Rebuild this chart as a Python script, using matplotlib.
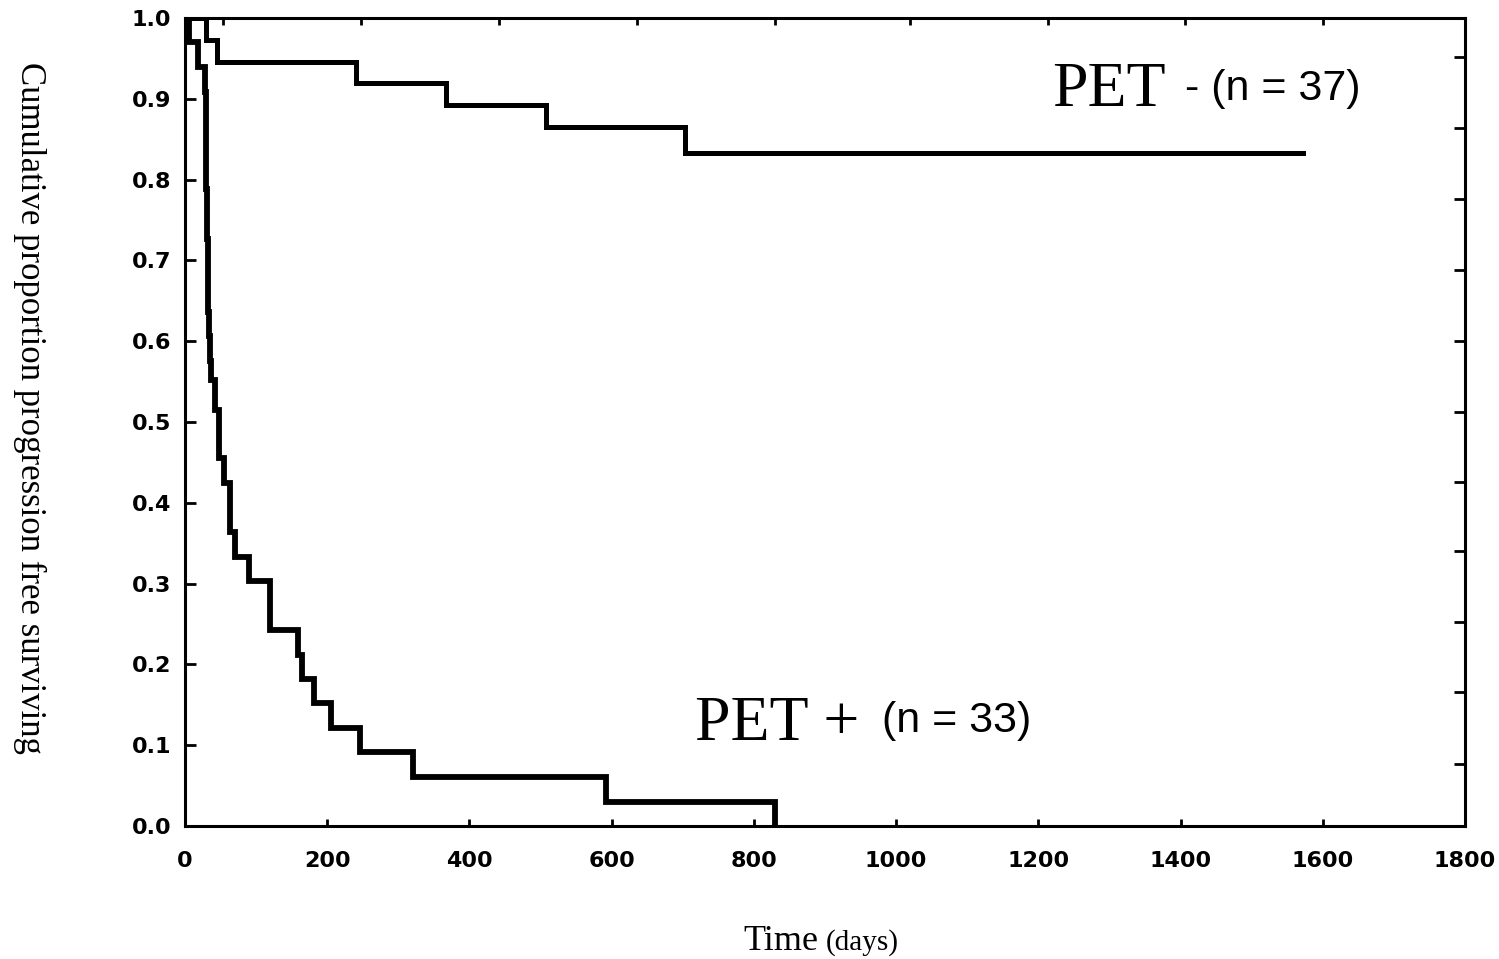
import matplotlib
matplotlib.use("Agg")
import matplotlib.pyplot as plt

# Kaplan-Meier steps
pet_pos_days = [0, 5, 18, 28, 29, 30, 31, 32, 33, 34, 35, 36, 42, 48, 55, 63, 71,
                90, 119, 159, 164, 181, 206, 246, 320, 592, 830]
pet_pos_surv = [1.0, 0.970, 0.939, 0.909, 0.848, 0.788, 0.727, 0.667, 0.636, 0.606,
                0.576, 0.552, 0.515, 0.455, 0.424, 0.364, 0.333, 0.303, 0.242, 0.212,
                0.182, 0.152, 0.121, 0.091, 0.061, 0.030, 0.0]

pet_neg_days = [0, 30, 45, 241, 367, 507, 703, 1572]
pet_neg_surv = [1.0, 0.973, 0.946, 0.919, 0.892, 0.865, 0.833, 0.833]

x_ticks = [0, 200, 400, 600, 800, 1000, 1200, 1400, 1600, 1800]
y_ticks = [0.0, 0.1, 0.2, 0.3, 0.4, 0.5, 0.6, 0.7, 0.8, 0.9, 1.0]
# the frame ticks on top and right are not aligned with the labelled ones
top_ticks = [54, 248, 442, 636, 830, 1020, 1213, 1406, 1600]
right_ticks = [0.077, 0.166, 0.252, 0.340, 0.426, 0.512, 0.600, 0.688, 0.776, 0.864, 0.952]

W, H = 1499, 959
fig = plt.figure(figsize=(W / 100, H / 100), dpi=100)
ax = fig.add_axes([185 / W, 1 - 826 / H, (1465 - 185) / W, (826 - 18) / H])

ax.step(pet_neg_days, pet_neg_surv, where="post", color="black", lw=3.6,
        solid_joinstyle="miter")
ax.step(pet_pos_days, pet_pos_surv, where="post", color="black", lw=4.2,
        solid_joinstyle="miter")

ax.set_xlim(0, 1800)
ax.set_ylim(0, 1.0)
ax.set_xticks(x_ticks)
ax.set_xticklabels([str(t) for t in x_ticks])
ax.set_yticks(y_ticks)
ax.set_yticklabels(["%.1f" % t for t in y_ticks])

for s in ax.spines.values():
    s.set_linewidth(2.2)

tick_font = {"family": "DejaVu Sans", "weight": "bold", "size": 16}
for lab in ax.get_xticklabels() + ax.get_yticklabels():
    lab.set_fontproperties(matplotlib.font_manager.FontProperties(**tick_font))
ax.tick_params(axis="x", direction="in", length=5, width=2, pad=18)
ax.tick_params(axis="y", direction="in", length=8, width=2, pad=10)

top = ax.secondary_xaxis("top")
top.set_xticks(top_ticks)
top.set_xticklabels([])
top.tick_params(direction="in", length=5, width=2)
top.spines["top"].set_visible(False)

right = ax.secondary_yaxis("right")
right.set_yticks(right_ticks)
right.set_yticklabels([])
right.tick_params(direction="in", length=8, width=2)
right.spines["right"].set_visible(False)

# group labels
ax.text(1220, 0.891, "PET", family="Liberation Serif", fontsize=46, va="baseline")
ax.text(1406, 0.899, "- (n = 37)", family="Liberation Sans", fontsize=31, va="baseline")
ax.text(717, 0.106, "PET +", family="Liberation Serif", fontsize=46, va="baseline")
ax.text(980, 0.116, "(n = 33)", family="Liberation Sans", fontsize=31, va="baseline")

# axis titles
fig.text(743 / W, 1 - 950 / H, "Time", family="Liberation Serif", fontsize=26,
         ha="left", va="baseline")
fig.text(826 / W, 1 - 950 / H, "(days)", family="Liberation Serif", fontsize=21,
         ha="left", va="baseline")
fig.text(30 / W, 1 - 408 / H, "Cumulative proportion progression free surviving",
         family="Liberation Serif", fontsize=25, rotation=270, ha="center", va="center")

fig.savefig("out.png", dpi=100)
